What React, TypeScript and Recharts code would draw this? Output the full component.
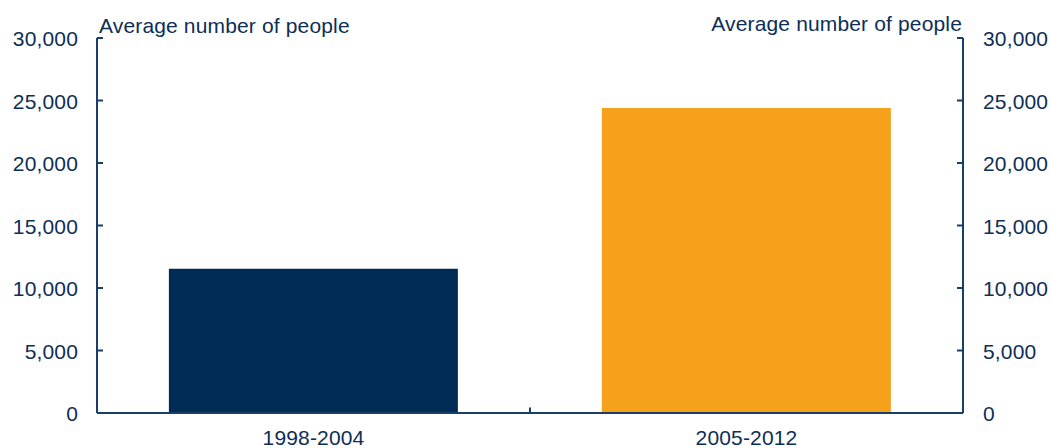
import React from "react";
import { ComposedChart, Bar, Line, XAxis, YAxis, Cell, ReferenceLine } from "recharts";

const categories = ["1998-2004", "2005-2012"];
const categoryPositions = [0.5, 1.5];
const averagePeople = [11550, 24400];
const barColors = ["#002b55", "#f5a11c"];
const yTicks = [0, 5000, 10000, 15000, 20000, 25000, 30000];
const axisTitle = "Average number of people";

const data = categories.map((c, i) => ({ period: c, pos: categoryPositions[i], value: averagePeople[i] }));

const TEXT = "#0d2e55";
const AXIS = "#1b3d69";
const FONT = "'Liberation Sans', Arial, sans-serif";
const fmt = (v: number) => v.toLocaleString("en-US");

const LeftTick = (props: any) => {
  const { x, y, payload } = props;
  return (
    <g>
      <line x1={x + 19} x2={x + 25} y1={y} y2={y} stroke={AXIS} strokeWidth={2} />
      <text x={x} y={y} dy={8} textAnchor="end" fill={TEXT} fontSize={21} fontFamily={FONT} letterSpacing={0.15}>
        {fmt(payload.value)}
      </text>
    </g>
  );
};

const RightTick = (props: any) => {
  const { x, y, payload } = props;
  return (
    <g>
      <line x1={x - 26} x2={x - 20} y1={y} y2={y} stroke={AXIS} strokeWidth={2} />
      <text x={x} y={y} dy={8} textAnchor="start" fill={TEXT} fontSize={21} fontFamily={FONT} letterSpacing={0.15}>
        {fmt(payload.value)}
      </text>
    </g>
  );
};

const BottomTick = (props: any) => {
  const { x, y, payload } = props;
  return (
    <text x={x} y={y} dy={24} textAnchor="middle" fill={TEXT} fontSize={21} fontFamily={FONT} letterSpacing={0.15}>
      {payload.value}
    </text>
  );
};

export default function App() {
  return (
    <div style={{ position: "absolute", left: 0, top: 0, width: 1051, height: 448, background: "#fff" }}>
      <ComposedChart
        width={1051}
        height={448}
        data={data}
        margin={{ top: 38, right: 0, bottom: 0, left: 0 }}
        barCategoryGap="16.6%"
      >
        <XAxis
          xAxisId="cat"
          dataKey="period"
          height={35}
          tickLine={false}
          axisLine={{ stroke: AXIS, strokeWidth: 2 }}
          tick={<BottomTick />}
          interval={0}
        />
        <XAxis xAxisId="num" dataKey="pos" type="number" domain={[0, 2]} hide />
        <YAxis
          yAxisId="left"
          orientation="left"
          width={97}
          domain={[0, 30000]}
          ticks={yTicks}
          tickLine={false}
          tickSize={6}
          tickMargin={13}
          axisLine={{ stroke: AXIS, strokeWidth: 2 }}
          tick={<LeftTick />}
          interval={0}
        />
        <YAxis
          yAxisId="right"
          orientation="right"
          width={88}
          domain={[0, 30000]}
          ticks={yTicks}
          tickLine={false}
          tickSize={6}
          tickMargin={14}
          axisLine={{ stroke: AXIS, strokeWidth: 2 }}
          tick={<RightTick />}
          interval={0}
        />
        <Bar dataKey="value" xAxisId="cat" yAxisId="left" isAnimationActive={false}>
          {data.map((d, i) => (
            <Cell key={d.period} fill={barColors[i]} />
          ))}
        </Bar>
        <Line
          dataKey="value"
          xAxisId="num"
          yAxisId="right"
          stroke="none"
          strokeOpacity={0}
          dot={false}
          activeDot={false}
          legendType="none"
          isAnimationActive={false}
        />
        <ReferenceLine
          xAxisId="num"
          yAxisId="left"
          segment={[{ x: 1, y: 0 }, { x: 1, y: 450 }]}
          stroke={AXIS}
          strokeWidth={2}
        />
      </ComposedChart>
      <div
        style={{
          position: "absolute",
          left: 99,
          top: 13,
          fontFamily: FONT,
          fontSize: 21,
          letterSpacing: 0.15,
          color: TEXT,
          whiteSpace: "nowrap",
          lineHeight: "26px",
        }}
      >
        {axisTitle}
      </div>
      <div
        style={{
          position: "absolute",
          right: 1051 - 962,
          top: 11,
          fontFamily: FONT,
          fontSize: 21,
          letterSpacing: 0.15,
          color: TEXT,
          whiteSpace: "nowrap",
          lineHeight: "26px",
        }}
      >
        {axisTitle}
      </div>
    </div>
  );
}
